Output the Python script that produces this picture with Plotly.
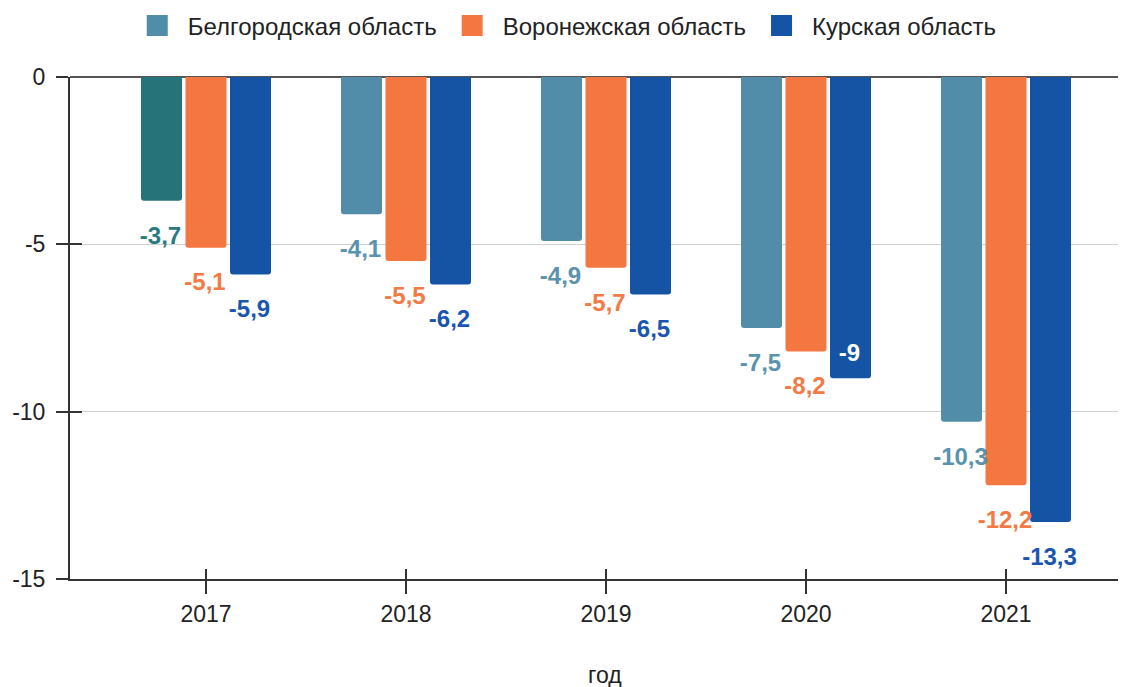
import plotly.graph_objects as go

years = ["2017", "2018", "2019", "2020", "2021"]
series_names = ["Белгородская область", "Воронежская область", "Курская область"]
belgorod = [-3.7, -4.1, -4.9, -7.5, -10.3]
voronezh = [-5.1, -5.5, -5.7, -8.2, -12.2]
kursk = [-5.9, -6.2, -6.5, -9.0, -13.3]
y_ticks = [0, -5, -10, -15]
y_tick_text = ["0", "-5", "-10", "-15"]
x_title = "год"

values = [belgorod, voronezh, kursk]
bar_colors = [
    ["#26737a", "#518da9", "#518da9", "#518da9", "#518da9"],
    ["#f47641"] * 5,
    ["#1553a5"] * 5,
]
legend_colors = ["#518da9", "#f47641", "#1553a5"]
label_colors = [
    ["#2a7b80", "#5a93ad", "#5a93ad", "#5a93ad", "#5a93ad"],
    ["#f47a45"] * 5,
    ["#1a56b0"] * 5,
]
# label placed inside the bar (white) instead of below
inside = [[False] * 5, [False] * 5, [False, False, False, True, False]]

offsets = [-0.2225, 0.0, 0.2225]
bar_w = 0.205
FONT = "Liberation Sans, Arial, sans-serif"

fig = go.Figure()
xs = list(range(len(years)))
for k, name in enumerate(series_names):
    bx = [i + offsets[k] for i in xs]
    fig.add_trace(go.Bar(
        x=bx, y=values[k], width=bar_w, name=name,
        marker=dict(color=bar_colors[k], line=dict(width=0)),
        showlegend=False, hoverinfo="skip",
    ))
    # legend proxy
    fig.add_trace(go.Scatter(
        x=[None], y=[None], mode="markers", name=name,
        marker=dict(symbol="square", size=16, color=legend_colors[k],
                    line=dict(color=legend_colors[k], width=5)),
    ))
    ly, lc, lt = [], [], []
    for i, v in enumerate(values[k]):
        txt = ("%g" % v).replace(".", ",")
        lt.append(txt)
        if inside[k][i]:
            ly.append(v + 0.7)
            lc.append("#ffffff")
        else:
            ly.append(v - 1.1)
            lc.append(label_colors[k][i])
    fig.add_trace(go.Scatter(
        x=[b - 0.005 for b in bx], y=ly, mode="text", text=lt,
        textfont=dict(family=FONT, size=24, color=lc, weight="bold"),
        showlegend=False, hoverinfo="skip", cliponaxis=False,
    ))

fig.update_layout(
    width=1126, height=687,
    margin=dict(l=62, r=8, t=69, b=116, autoexpand=False),
    paper_bgcolor="white", plot_bgcolor="white",
    font=dict(family=FONT, size=23, color="#222"),
    barmode="overlay",
    barcornerradius=3,
    legend=dict(orientation="h", x=0.494, xanchor="center", xref="container",
                y=0.974, yanchor="middle", yref="container", itemwidth=51,
                font=dict(family=FONT, size=24, color="#222"), traceorder="normal"),
    xaxis=dict(
        range=[-0.68, 4.6], tickmode="array", tickvals=xs, ticktext=years,
        showgrid=False, zeroline=False, showline=True, linecolor="#333", linewidth=2,
        ticks="outside", ticklen=13, tickcolor="#333", tickwidth=1.5,
        ticklabelstandoff=0, tickfont=dict(size=23, color="#222"), automargin=False,
    ),
    xaxis2=dict(
        overlaying="x", matches="x", side="bottom", tickmode="array", tickvals=xs,
        showticklabels=False, showgrid=False, zeroline=False, showline=False,
        ticks="inside", ticklen=10, tickcolor="#333", tickwidth=1.5, automargin=False,
    ),
    yaxis=dict(
        range=[-15, 0], tickmode="array", tickvals=y_ticks, ticktext=y_tick_text,
        showgrid=True, gridcolor="#cfcfcf", gridwidth=1,
        zeroline=True, zerolinecolor="#555", zerolinewidth=2,
        showline=True, linecolor="#333", linewidth=2,
        ticks="outside", ticklen=12, tickcolor="#333", tickwidth=1.5,
        ticklabelstandoff=6, tickfont=dict(size=23, color="#222"), automargin=False,
    ),
    yaxis2=dict(
        overlaying="y", matches="y", side="left", tickmode="array", tickvals=y_ticks,
        showticklabels=False, showgrid=False, zeroline=False, showline=False,
        ticks="inside", ticklen=12, tickcolor="#333", tickwidth=1.5, automargin=False,
    ),
    annotations=[dict(text=x_title, xref="paper", yref="paper", x=0.507, y=0.0,
                      yshift=-96, showarrow=False, yanchor="middle",
                      font=dict(family=FONT, size=23, color="#222"))],
)
# invisible trace to activate the overlay axes (crossing tick marks)
fig.add_trace(go.Scatter(x=[0], y=[0], xaxis="x2", yaxis="y2", mode="markers",
                         marker=dict(opacity=0), showlegend=False, hoverinfo="skip"))
fig.write_html("out.html")
